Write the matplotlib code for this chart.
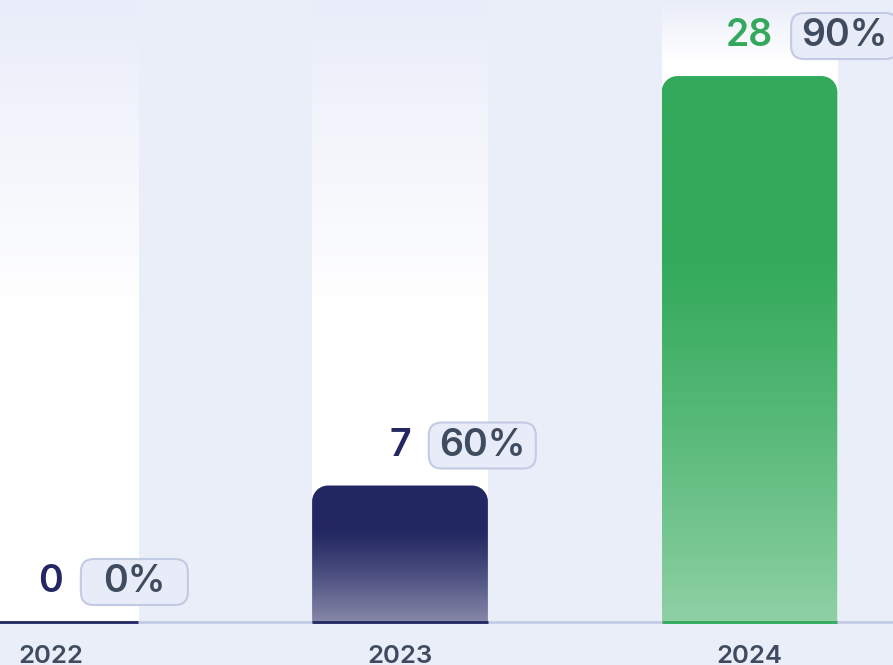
import numpy as np
import matplotlib
matplotlib.use('Agg')
import matplotlib.pyplot as plt
from matplotlib.path import Path
from matplotlib.patches import PathPatch, FancyBboxPatch
from matplotlib.colors import to_rgb
from matplotlib.transforms import IdentityTransform

plt.rcParams['font.family'] = ['Inter', 'DejaVu Sans']

# data
years = ['2022', '2023', '2024']
values = [0, 7, 28]
shares = [0, 60, 90]

navy = '#232762'
green = '#33aa5b'
bar_colors = [navy, navy, green]
bg = '#eaeef9'
slot_top = '#e9edf9'
grid_col = '#c4cbe3'
text_col = '#3f4b5f'

fig = plt.figure(figsize=(8.93, 6.65), dpi=100)
fig.patch.set_facecolor(bg)
ax = fig.add_axes([0, 0, 1, 1])
ax.set_facecolor(bg)
ax.set_xlim(-0.1445, 2.4106)
ax.set_ylim(-2.205, 31.9)
ax.axis('off')

width = 0.503
x = np.arange(len(years))

# pixels per data unit
sx = ax.transData.transform((1, 0))[0] - ax.transData.transform((0, 0))[0]
sy = ax.transData.transform((0, 1))[1] - ax.transData.transform((0, 0))[1]
ytop = ax.get_ylim()[1]


def rounded_top(x0, x1, y0, y1, rx, ry, n=16):
    verts = [(x0, y0), (x0, y1 - ry)]
    for a in np.linspace(np.pi, np.pi / 2, n):
        verts.append((x0 + rx + rx * np.cos(a), y1 - ry + ry * np.sin(a)))
    for a in np.linspace(np.pi / 2, 0, n):
        verts.append((x1 - rx + rx * np.cos(a), y1 - ry + ry * np.sin(a)))
    verts += [(x1, y0), (x0, y0)]
    codes = [Path.MOVETO] + [Path.LINETO] * (len(verts) - 2) + [Path.CLOSEPOLY]
    return Path(verts, codes)


# background slots: white at the bottom fading to lavender at the top
for xi, v in zip(x, values):
    fade = max(16.0, v + 0.8)
    ys = np.linspace(0, ytop, 400)
    t = np.clip((ys - fade) / (ytop - fade), 0, 1)
    top = np.array(to_rgb(slot_top))
    cols = (1 - t)[:, None] * np.ones(3) + t[:, None] * top
    img = cols[::-1][:, None, :]
    ax.imshow(img, extent=(xi - width / 2, xi + width / 2, 0, ytop),
              aspect='auto', zorder=1, interpolation='bilinear')

ax.axhline(0, color=grid_col, lw=2, zorder=2)

# bars with rounded tops and a fade towards the bottom
rx, ry = 16 / sx, 16 / sy
for xi, v, c in zip(x, values, bar_colors):
    x0, x1 = xi - width / 2, xi + width / 2
    if v > 0:
        p = PathPatch(rounded_top(x0, x1, 0, v, rx, ry), fc='none', ec='none')
        ax.add_patch(p)
        t = np.linspace(0, 1, 300)
        a = np.where(t < 0.32, 1.0, 1 - 0.45 * np.clip((t - 0.32) / 0.68, 0, 1) ** 1.2)
        rgb = np.array(to_rgb(c))
        cols = a[:, None] * rgb + (1 - a[:, None]) * np.ones(3)
        im = ax.imshow(cols[:, None, :], extent=(x0, x1, 0, v), aspect='auto',
                       zorder=3, interpolation='bilinear')
        im.set_clip_path(p)
    ax.plot([x0, x1], [0, 0], color=c, lw=2, solid_capstyle='butt', zorder=4)

# restore limits after imshow
ax.set_xlim(-0.1445, 2.4106)
ax.set_ylim(-2.205, 31.9)

fig.canvas.draw()
renderer = fig.canvas.get_renderer()

pill_w, pill_h = 107, 46
for xi, v, s, c, yr in zip(x, values, shares, bar_colors, years):
    num = ax.annotate(str(v), xy=(xi, v), xytext=(0, 40), textcoords='offset pixels',
                      ha='center', va='center', fontsize=27, color=c,
                      fontweight='semibold', zorder=6)
    bb = num.get_window_extent(renderer)
    px, py = ax.transData.transform((xi, v))
    cy = py + 40
    left = bb.x1 + 18
    pill = FancyBboxPatch((left, cy - pill_h / 2), pill_w, pill_h,
                          boxstyle='round,pad=0,rounding_size=13',
                          transform=IdentityTransform(), fc='#e8ecf8',
                          ec='#c3cae3', lw=1.5, zorder=5, clip_on=False)
    ax.add_patch(pill)
    ax.text(left + pill_w / 2, cy, f'{s}%', transform=IdentityTransform(),
            ha='center', va='center', fontsize=27, color=text_col,
            fontweight='semibold', zorder=6)
    ax.annotate(yr, xy=(xi, 0), xytext=(0, -23), textcoords='offset pixels',
                ha='center', va='top', fontsize=18.5, color=text_col,
                fontweight='semibold')

fig.savefig('out.png', dpi=100, facecolor=bg)
